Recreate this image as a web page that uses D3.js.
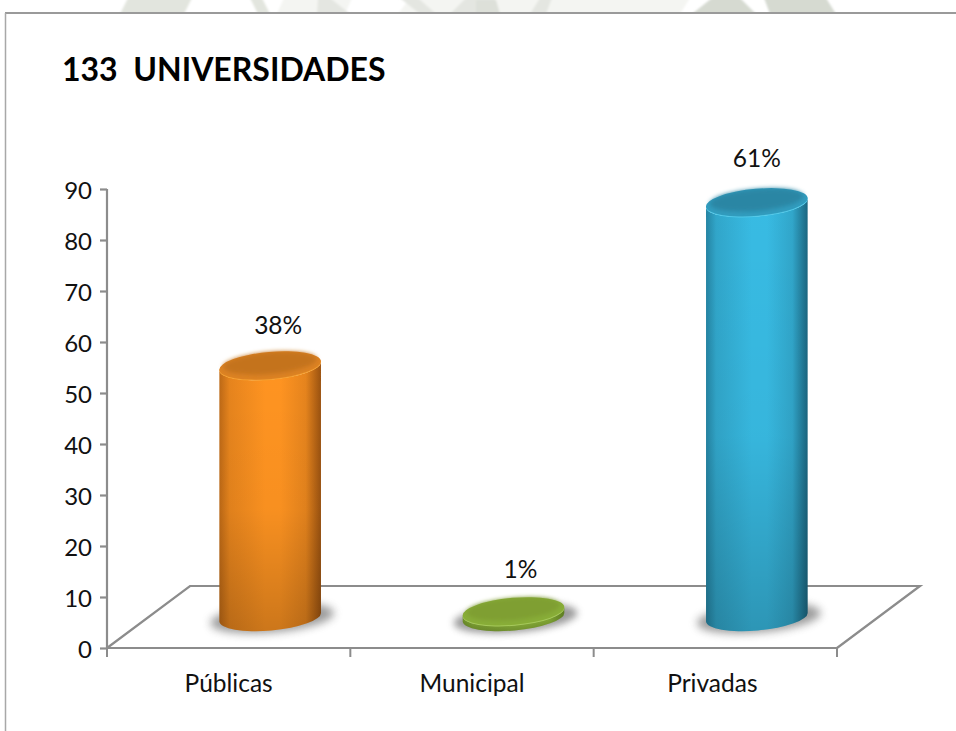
<!DOCTYPE html>
<html><head><meta charset="utf-8">
<script src="https://cdn.jsdelivr.net/npm/d3@7"></script>
<style>html,body{margin:0;padding:0;background:#fff}svg{display:block}text{font-family:Lato,"Open Sans",sans-serif;fill:#111}</style>
</head><body><div id="c"></div>
<script>
const categories = ["Públicas","Municipal","Privadas"];
const values = [49.2,1,81.2];
const labels = ["38%","1%","61%"];
const yTicks = [0,10,20,30,40,50,60,70,80,90];
const palette = [
 {mid:"#ff9421",edge:"#9a5210",top:"#c4731c",topEdge:"#dc8224",rim:"#f5a030"},
 {mid:"#8cb33a",edge:"#5f7f22",top:"#7f9f33",topEdge:"#88ad38",rim:"#a6c95a"},
 {mid:"#38bbe3",edge:"#1b6680",top:"#2a86a4",topEdge:"#329cbe",rim:"#50c8e8"}
];
const labelDx=[8,7,0], labelDy=[32,34,36], catDx=[0,0,-3];
const W=956,H=731;
const svg=d3.select("#c").append("svg").attr("width",W).attr("height",H);
const defs=svg.append("defs");
function blur(id,sd){defs.append("filter").attr("id",id).attr("x","-30%").attr("y","-80%").attr("width","160%").attr("height","260%")
  .append("feGaussianBlur").attr("stdDeviation",sd);}
blur("blur",4.5);blur("blur2",3.5);blur("soft",2.2);blur("wm",.8);

// faded watermark strip above the frame
const wm=svg.append("g").attr("filter","url(#wm)");
[["#f4f5f2",[[277,14],[284,-2],[352,-2],[345,14]]],
 ["#f4f5f2",[[398,14],[410,-2],[690,-2],[680,14]]],
 ["#e2e5de",[[120,14],[128,-2],[192,-2],[184,14]]],
 ["#e2e5de",[[250,-2],[262,-2],[270,14],[258,14]]],
 ["#e4e6e1",[[317,14],[318,-2],[330,-2],[350,14]]],
 ["#e4e6e1",[[400,-2],[418,-2],[436,14],[420,14]]],
 ["#e4e6e1",[[450,14],[466,-2],[496,-2],[482,14]]],
 ["#dde0d9",[[476,14],[476,0],[496,0],[500,14]]],
 ["#e4e6e1",[[530,14],[540,-2],[552,-2],[546,14]]],
 ["#d6dad1",[[692,14],[712,-2],[740,-2],[756,14]]],
 ["#d6dad1",[[770,14],[764,-2],[826,-2],[836,14]]]
].forEach(d=>wm.append("path").attr("fill",d[0]).attr("d",d3.line()(d[1])+"Z"));
svg.append("rect").attr("x",6).attr("y",14).attr("width",W).attr("height",H).attr("fill","#fff");

// page frame
svg.append("line").attr("x1",5).attr("x2",W).attr("y1",13).attr("y2",13).attr("stroke","#9a9a9a").attr("stroke-width",2);
svg.append("line").attr("x1",5.5).attr("x2",5.5).attr("y1",13).attr("y2",H).attr("stroke","#a8a8a8").attr("stroke-width",1.5);

svg.append("text").attr("x",62).attr("y",81).attr("font-size",32).attr("font-weight",700).attr("xml:space","preserve").style("fill","#000").text("133  UNIVERSIDADES");

const y=d3.scaleLinear().domain([0,90]).range([648,189]);
const x=d3.scaleBand().domain(categories).range([107,837]);
const depthX=83, depthY=62, grey="#8c8c8c";

// floor
const floor=svg.append("g").attr("fill","none").attr("stroke",grey).attr("stroke-width",2.2);
floor.append("path").attr("d",d3.line()([[107,648],[107+depthX,648-depthY],[837+depthX,648-depthY],[837,648]]));
// axes
const ax=svg.append("g").attr("transform","translate(107,0)").call(d3.axisLeft(y).tickValues(yTicks).tickSize(7).tickPadding(8));
ax.selectAll("path,line").attr("stroke",grey).attr("stroke-width",2.2);
ax.select(".domain").attr("d","M0,189V648");
ax.selectAll("text").attr("font-size",24).attr("dy","0.39em").style("fill","#111");
const bx=svg.append("g").attr("transform","translate(0,648)").call(d3.axisBottom(x).tickValues([]).tickSize(0));
bx.select(".domain").attr("d","M107,0H837").attr("stroke",grey).attr("stroke-width",2.2);
[0,1,2,3].forEach(i=>{const px=107+i*x.step();
  svg.append("line").attr("x1",px).attr("x2",px).attr("y1",648).attr("y2",657).attr("stroke",grey).attr("stroke-width",2);});
svg.selectAll(".cat").data(categories).join("text").attr("class","cat")
  .attr("x",(d,i)=>x(d)+x.bandwidth()/2+catDx[i]).attr("y",692).attr("text-anchor","middle").attr("font-size",24.5).text(d=>d);

// cylinders
const rx=51, ry=13.5, tilt=-5, baseShift=-31;
categories.forEach((c,i)=>{
  const p=palette[i], cx=x(c)+x.bandwidth()/2+depthX/2;
  const baseY=y(0)+baseShift, topY=y(values[i])+baseShift;
  const dy=rx*Math.sin(-tilt*Math.PI/180), dx=rx*Math.cos(tilt*Math.PI/180);
  const g=svg.append("g");
  g.append("ellipse").attr("cx",cx+2).attr("cy",baseY+1).attr("rx",rx+11).attr("ry",ry+1)
    .attr("transform",`rotate(${tilt} ${cx+2} ${baseY+1})`).attr("fill","#666").attr("opacity",.65)
    .attr("filter",i===1?"url(#blur2)":"url(#blur)");
  const gid="g"+i, mix=d3.interpolateRgb(p.edge,p.mid);
  const lg=defs.append("linearGradient").attr("id",gid).attr("x1",0).attr("x2",1).attr("y1",0).attr("y2",0);
  [[0,mix(.35)],[.1,mix(.75)],[.45,p.mid],[.6,p.mid],[.85,mix(.75)],[1,p.edge]]
    .forEach(s=>lg.append("stop").attr("offset",s[0]).attr("stop-color",s[1]));
  const vg=defs.append("linearGradient").attr("id","v"+i).attr("x1",0).attr("x2",0).attr("y1",0).attr("y2",1);
  [[0,0],[.55,.03],[1,.2]].forEach(s=>vg.append("stop").attr("offset",s[0]).attr("stop-color","#000").attr("stop-opacity",s[1]));
  const body=`M${cx-dx},${topY+dy}L${cx-dx},${baseY+dy}A${rx},${ry} ${tilt} 0 0 ${cx+dx},${baseY-dy}L${cx+dx},${topY-dy}A${rx},${ry} ${tilt} 0 1 ${cx-dx},${topY+dy}Z`;
  g.append("path").attr("d",body).attr("fill",`url(#${gid})`);
  g.append("path").attr("d",body).attr("fill",`url(#v${i})`);
  // top cap
  const rot=`rotate(${tilt} ${cx} ${topY})`;
  g.append("ellipse").attr("cx",cx).attr("cy",topY+.4).attr("rx",rx).attr("ry",ry).attr("transform",rot).attr("fill",p.rim);
  g.append("ellipse").attr("cx",cx).attr("cy",topY-.6).attr("rx",rx).attr("ry",ry).attr("transform",rot).attr("fill",p.topEdge);
  g.append("ellipse").attr("cx",cx).attr("cy",topY-3).attr("rx",rx-4).attr("ry",ry-2.5).attr("transform",rot).attr("fill",p.top).attr("filter","url(#soft)");
  g.append("text").attr("x",cx+labelDx[i]).attr("y",topY-labelDy[i]).attr("text-anchor","middle").attr("font-size",24.5).text(labels[i]);
});
</script></body></html>
